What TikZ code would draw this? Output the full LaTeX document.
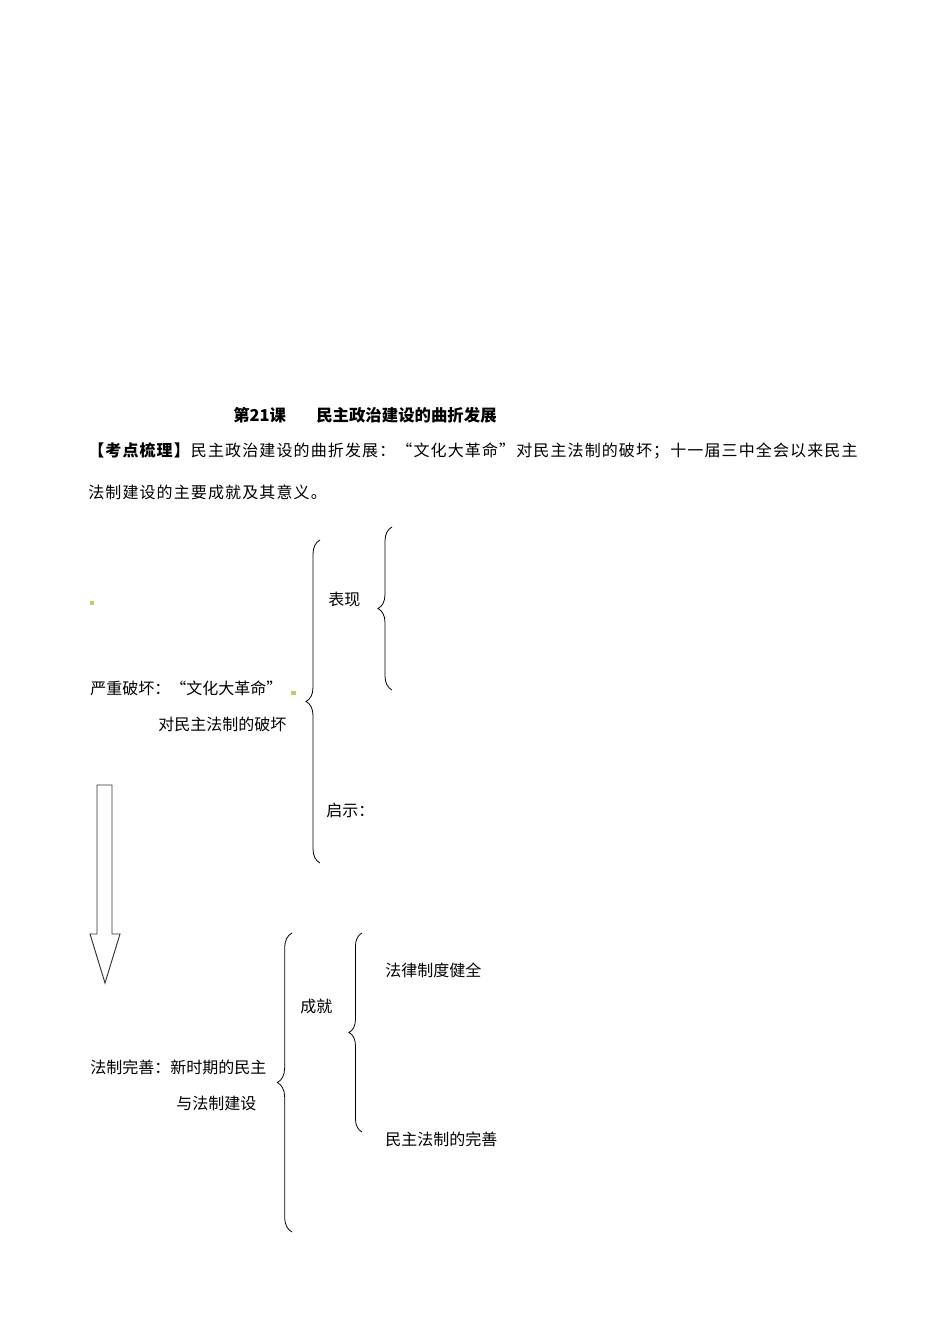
\documentclass[tikz,border=0pt]{standalone}
\usepackage{fontspec}
\usetikzlibrary{decorations.pathreplacing}
\newfontfamily\cjk{Noto Sans CJK SC}
\tikzset{
  lbl/.style={anchor=west,inner sep=0pt,font=\cjk\fontsize{12}{14}\selectfont},
  ttl/.style={anchor=west,inner sep=0pt,font=\cjk\bfseries\fontsize{12.3}{14}\selectfont},
  wide/.style={anchor=west,inner sep=0pt,font=\cjk\addfontfeature{LetterSpace=7}\fontsize{12}{14}\selectfont},
  brc/.style={draw,line width=0.6pt,decorate,decoration={brace,amplitude=#1}},
  dotm/.style={fill={rgb,255:red,200;green,200;blue,110}},
  bigarrow/.style={draw=black!80,line width=0.7pt,fill=white}
}
\begin{document}
\begin{tikzpicture}[x=0.75pt,y=-0.75pt]
\useasboundingbox (0,0) rectangle (950,1344);
\fill[white] (0,0) rectangle (950,1344);
% title
\node[ttl] (t1) at (233,415) {第21课};
\node[ttl] (t2) at (316,415) {民主政治建设的曲折发展};
\node[wide] (l2) at (88,451) {\textbf{【考点梳理】}民主政治建设的曲折发展：“文化大革命”对民主法制的破坏；十一届三中全会以来民主};
\node[wide] (l3) at (88,492) {法制建设的主要成就及其意义。};
% first part
\fill[dotm] (89.5,601) rectangle (93.5,605);
\fill[dotm] (291,691) rectangle (296,695);
\node[lbl] (a1) at (90,688) {严重破坏：“文化大革命”};
\node[lbl] (a2) at (158,724) {对民主法制的破坏};
\draw[brc=10.5pt] (320,863) -- (320,540);
\node[lbl] (b1) at (328,599) {表现};
\draw[brc=10.5pt] (392,690) -- (392,527);
\node[lbl] (b2) at (326,810) {启示：};
% arrow
\draw[bigarrow] (97,785) -- (112,785) -- (112,934) -- (120,934) -- (105,983) -- (90,934) -- (97,934) -- cycle;
% second part
\node[lbl] (c1) at (90,1067) {法制完善：新时期的民主};
\node[lbl] (c2) at (176,1103) {与法制建设};
\draw[brc=11pt] (292,1232) -- (292,933);
\node[lbl] (d1) at (300,1006) {成就};
\draw[brc=9.8pt] (362,1132) -- (362,933);
\node[lbl] (e1) at (385,970) {法律制度健全};
\node[lbl] (e2) at (385,1139) {民主法制的完善};
\end{tikzpicture}
\end{document}
